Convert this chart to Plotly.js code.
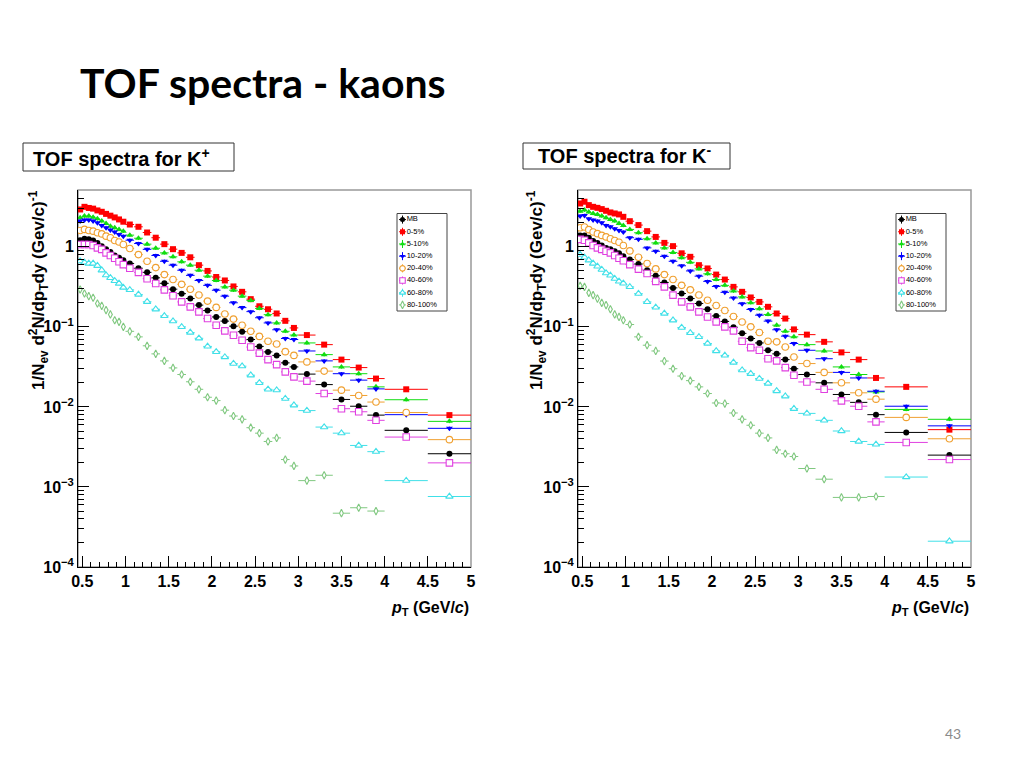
<!DOCTYPE html>
<html><head><meta charset="utf-8">
<script src="https://cdn.plot.ly/plotly-3.0.1.min.js"></script>
<style>html,body{margin:0;padding:0;background:#fff}#chart{width:1024px;height:768px}</style>
</head><body><div id="chart"></div>
<script>
// pT bin centres and half widths (GeV/c)
const pT = [0.475,0.525,0.575,0.625,0.675,0.725,0.775,0.825,0.875,0.925,0.975,
  1.05,1.15,1.25,1.35,1.45,1.55,1.65,1.75,1.85,1.95,2.05,2.15,2.25,2.35,2.45,2.55,2.65,2.75,2.85,2.95,
  3.1,3.3,3.5,3.7,3.9,4.25,4.75];
const pTHalfWidth = [0.025,0.025,0.025,0.025,0.025,0.025,0.025,0.025,0.025,0.025,0.025,
  0.05,0.05,0.05,0.05,0.05,0.05,0.05,0.05,0.05,0.05,0.05,0.05,0.05,0.05,0.05,0.05,0.05,0.05,0.05,0.05,
  0.1,0.1,0.1,0.1,0.1,0.25,0.25];

const seriesNames = ['MB','0-5%','5-10%','10-20%','20-40%','40-60%','60-80%','80-100%'];
const seriesColors = ['#000000','#ff0000','#11dd11','#0000ff','#f0a030','#e040e0','#40e0e8','#80c880'];
const seriesSymbols = ['circle','square','triangle-up','triangle-down','circle','square','triangle-up','diamond-tall'];
const seriesOpen = [false,false,false,false,true,true,true,true];

// K+ spectra
const kPlusMB    = [1.21,1.26,1.24,1.20,1.12,1.02,0.93,0.86,0.78,0.73,0.68,0.62,0.54,0.48,0.41,0.35,0.296,0.26,0.226,0.187,0.16,0.133,0.118,0.102,0.087,0.0695,0.057,0.0487,0.044,0.0355,0.0316,0.0257,0.019,0.0124,0.0102,0.0079,0.0051,0.0026];
const kPlus0_5   = [2.93,3.16,3.06,3.00,2.85,2.74,2.58,2.45,2.33,2.20,2.06,1.90,1.78,1.51,1.30,1.08,0.935,0.84,0.74,0.59,0.50,0.42,0.38,0.32,0.274,0.222,0.181,0.166,0.147,0.119,0.097,0.079,0.060,0.039,0.031,0.0226,0.0166,0.0079];
const kPlus5_10  = [2.31,2.42,2.42,2.35,2.24,2.10,1.96,1.81,1.73,1.65,1.57,1.40,1.28,1.08,0.96,0.84,0.75,0.65,0.59,0.51,0.43,0.38,0.316,0.287,0.242,0.214,0.17,0.142,0.112,0.088,0.079,0.063,0.045,0.0316,0.026,0.0178,0.0123,0.0066];
const kPlus10_20 = [2.10,2.16,2.16,2.10,2.00,1.85,1.73,1.62,1.53,1.43,1.36,1.21,1.10,0.93,0.78,0.66,0.59,0.51,0.44,0.38,0.33,0.287,0.242,0.20,0.174,0.155,0.13,0.112,0.092,0.0716,0.0695,0.050,0.0376,0.026,0.0216,0.0168,0.0080,0.0054];
const kPlus20_40 = [1.60,1.65,1.60,1.57,1.50,1.45,1.36,1.30,1.20,1.15,1.07,0.955,0.80,0.66,0.55,0.45,0.39,0.34,0.295,0.25,0.21,0.175,0.145,0.125,0.105,0.088,0.076,0.066,0.061,0.049,0.044,0.0365,0.028,0.0162,0.0139,0.0115,0.0085,0.0039];
const kPlus40_60 = [1.07,1.07,1.07,1.04,0.97,0.93,0.84,0.78,0.72,0.65,0.60,0.54,0.48,0.40,0.348,0.29,0.245,0.205,0.178,0.154,0.127,0.105,0.089,0.0787,0.068,0.056,0.047,0.039,0.0338,0.0274,0.0237,0.021,0.0147,0.0095,0.0087,0.0068,0.0042,0.0020];
const kPlus60_80 = [0.662,0.637,0.62,0.62,0.58,0.51,0.443,0.41,0.376,0.348,0.31,0.29,0.254,0.206,0.166,0.137,0.118,0.10,0.085,0.072,0.057,0.0488,0.042,0.0348,0.0323,0.0249,0.020,0.0166,0.0162,0.0127,0.0105,0.0090,0.0056,0.0047,0.0033,0.00276,0.0012,0.00076];
const kPlus80_100= [0.293,0.261,0.242,0.231,0.196,0.183,0.162,0.143,0.121,0.1155,0.100,0.088,0.075,0.058,0.046,0.0376,0.0307,0.0254,0.0206,0.0166,0.0132,0.012,0.0091,0.0077,0.0070,0.0055,0.0047,0.0037,0.0041,0.0022,0.00183,0.0012,0.0014,0.00047,0.00055,0.0005,null,null];

// K- spectra
const kMinusMB    = [1.39,1.39,1.30,1.18,1.12,1.04,0.97,0.93,0.88,0.83,0.76,0.695,0.61,0.51,0.435,0.359,0.307,0.261,0.226,0.196,0.166,0.137,0.117,0.099,0.083,0.0716,0.063,0.051,0.046,0.039,0.030,0.0254,0.020,0.0143,0.0114,0.0080,0.0048,0.0025];
const kMinus0_5   = [3.48,3.66,3.32,3.16,3.07,2.96,2.82,2.69,2.61,2.54,2.37,2.09,1.87,1.57,1.33,1.12,1.02,0.83,0.75,0.59,0.537,0.45,0.39,0.316,0.274,0.233,0.205,0.178,0.147,0.127,0.093,0.080,0.065,0.048,0.039,0.023,0.0178,0.0052];
const kMinus5_10  = [2.79,2.88,2.72,2.61,2.54,2.42,2.31,2.20,2.10,1.96,1.85,1.65,1.50,1.26,1.12,0.97,0.85,0.73,0.64,0.53,0.46,0.39,0.33,0.28,0.237,0.20,0.168,0.143,0.105,0.088,0.075,0.060,0.050,0.0316,0.0254,0.0154,0.0093,0.0070];
const kMinus10_20 = [2.42,2.47,2.24,2.16,2.10,2.00,1.85,1.78,1.68,1.60,1.53,1.30,1.24,0.97,0.88,0.76,0.66,0.58,0.50,0.43,0.37,0.32,0.27,0.23,0.195,0.165,0.14,0.118,0.092,0.0766,0.062,0.051,0.040,0.027,0.023,0.0157,0.0102,0.0058];
const kMinus20_40 = [1.73,1.77,1.64,1.53,1.46,1.39,1.33,1.26,1.20,1.14,1.04,0.89,0.74,0.62,0.53,0.45,0.39,0.33,0.29,0.25,0.215,0.185,0.16,0.135,0.115,0.10,0.085,0.066,0.065,0.056,0.042,0.0348,0.027,0.020,0.015,0.0125,0.0074,0.0040];
const kMinus40_60 = [1.24,1.21,1.12,1.04,0.97,0.93,0.88,0.84,0.78,0.72,0.67,0.60,0.526,0.464,0.37,0.316,0.249,0.205,0.178,0.154,0.133,0.1155,0.10,0.089,0.066,0.055,0.051,0.040,0.0376,0.031,0.0249,0.0205,0.0166,0.0119,0.0102,0.0065,0.0036,0.0022];
const kMinus60_80 = [0.80,0.74,0.68,0.62,0.57,0.52,0.47,0.44,0.40,0.37,0.35,0.316,0.26,0.205,0.175,0.147,0.121,0.098,0.084,0.075,0.062,0.050,0.044,0.0359,0.0288,0.026,0.0226,0.0196,0.0158,0.0136,0.0095,0.0083,0.0068,0.0050,0.0037,0.0034,0.00133,0.00021];
const kMinus80_100= [0.326,0.316,0.266,0.249,0.226,0.20,0.187,0.166,0.143,0.133,0.121,0.107,0.075,0.059,0.050,0.0374,0.030,0.0243,0.0213,0.0178,0.0147,0.0112,0.011,0.0084,0.0070,0.0059,0.0047,0.0041,0.0029,0.0026,0.0024,0.0017,0.00125,0.00074,0.00074,0.00076,null,null];

const yTickVals = [1e-4,1e-3,1e-2,1e-1,1];
const yTickText = ['10<sup>\u22124</sup>','10<sup>\u22123</sup>','10<sup>\u22122</sup>','10<sup>\u22121</sup>','1'];

const kPlusSeries  = [kPlusMB,kPlus0_5,kPlus5_10,kPlus10_20,kPlus20_40,kPlus40_60,kPlus60_80,kPlus80_100];
const kMinusSeries = [kMinusMB,kMinus0_5,kMinus5_10,kMinus10_20,kMinus20_40,kMinus40_60,kMinus60_80,kMinus80_100];

const FONT = 'Liberation Sans, Arial, Helvetica, sans-serif';
const traces = [];
function markerStyle(i, size) {
  const col = seriesColors[i];
  if (seriesOpen[i]) {
    return {symbol: seriesSymbols[i], color: '#ffffff', size: size + 0.5, line: {color: col, width: 1.1}};
  }
  return {symbol: seriesSymbols[i], color: col, size: size, line: {color: col, width: 0}};
}
function addSpectra(series, xa, ya) {
  series.forEach((vals, i) => {
    const col = seriesColors[i];
    traces.push({
      type: 'scatter', mode: 'markers', x: pT, y: vals, xaxis: xa, yaxis: ya,
      name: seriesNames[i], cliponaxis: true,
      marker: markerStyle(i, i === 7 ? 5 : 6),
      error_x: {type: 'data', array: pTHalfWidth, visible: true, width: 0, thickness: 1, color: col},
      error_y: {type: 'percent', value: 5, visible: true, width: 0, thickness: 1, color: col}
    });
  });
}
addSpectra(kPlusSeries, 'x', 'y');
addSpectra(kMinusSeries, 'x2', 'y2');

// legend entries (drawn as small scatter traces in their own hidden axes)
function addLegend(xa, ya) {
  seriesNames.forEach((nm, i) => {
    const col = seriesColors[i];
    traces.push({
      type: 'scatter', mode: 'markers+text', x: [5.5], y: [i + 0.5], xaxis: xa, yaxis: ya,
      text: [nm], textposition: 'middle right', cliponaxis: false,
      textfont: {family: FONT, size: 7.5, color: '#000'},
      marker: markerStyle(i, 5),
      error_x: {type: 'constant', value: 3.5, width: 0, thickness: 1, color: col},
      error_y: {type: 'constant', value: 0.33, width: 0, thickness: 1, color: col}
    });
  });
}
addLegend('x3', 'y3');
addLegend('x4', 'y4');

const W = 1024, H = 768;
const yDom = [(H - 567) / H, (H - 190) / H];
const xAxisBase = {
  range: [0.45, 5.0], tickmode: 'linear', tick0: 0.5, dtick: 0.5,
  ticks: 'inside', ticklen: 11, tickwidth: 1, tickcolor: '#000',
  showline: true, linecolor: '#000', linewidth: 1, showgrid: false, zeroline: false,
  tickfont: {family: FONT, size: 16, color: '#000', weight: 'bold'},
  minor: {ticks: 'inside', ticklen: 5.5, tickwidth: 1, tickcolor: '#000', tick0: 0.5, dtick: 0.1, showgrid: false},
  fixedrange: true
};
const yAxisBase = {
  type: 'log', range: [-4, 0.71], domain: yDom,
  tickmode: 'array', tickvals: yTickVals, ticktext: yTickText,
  ticks: 'inside', ticklen: 11, tickwidth: 1, tickcolor: '#000',
  showline: true, linecolor: '#000', linewidth: 1, showgrid: false, zeroline: false,
  tickfont: {family: FONT, size: 16, color: '#000', weight: 'bold'},
  minor: {ticks: 'inside', ticklen: 6, tickwidth: 1, tickcolor: '#000', dtick: 'D1', showgrid: false},
  fixedrange: true
};
const legAxisX = {visible: false, range: [0, 50], fixedrange: true};
const legAxisY = {visible: false, range: [8, 0], fixedrange: true, domain: [(H - 311) / H, (H - 213.5) / H]};

const layout = {
  width: W, height: H, margin: {l: 0, r: 0, t: 0, b: 0},
  paper_bgcolor: '#fff', plot_bgcolor: 'rgba(0,0,0,0)', showlegend: false,
  xaxis: Object.assign({}, xAxisBase, {domain: [78 / W, 471 / W], anchor: 'y'}),
  yaxis: Object.assign({}, yAxisBase, {anchor: 'x'}),
  xaxis2: Object.assign({}, xAxisBase, {domain: [578 / W, 971 / W], anchor: 'y2'}),
  yaxis2: Object.assign({}, yAxisBase, {anchor: 'x2'}),
  xaxis3: Object.assign({}, legAxisX, {domain: [397 / W, 447 / W], anchor: 'y3'}),
  yaxis3: Object.assign({}, legAxisY, {anchor: 'x3'}),
  xaxis4: Object.assign({}, legAxisX, {domain: [896 / W, 946 / W], anchor: 'y4'}),
  yaxis4: Object.assign({}, legAxisY, {anchor: 'x4'}),
  shapes: [
    {type: 'rect', xref: 'x domain', yref: 'y domain', x0: 0, x1: 1, y0: 0, y1: 1, line: {color: '#999', width: 1.5}, layer: 'below'},
    {type: 'rect', xref: 'x2 domain', yref: 'y2 domain', x0: 0, x1: 1, y0: 0, y1: 1, line: {color: '#999', width: 1.5}, layer: 'below'},
    {type: 'rect', xref: 'x3 domain', yref: 'y3 domain', x0: 0, x1: 1, y0: 0, y1: 1, line: {color: '#444', width: 1}, fillcolor: '#fff', layer: 'below'},
    {type: 'rect', xref: 'x4 domain', yref: 'y4 domain', x0: 0, x1: 1, y0: 0, y1: 1, line: {color: '#444', width: 1}, fillcolor: '#fff', layer: 'below'},
    {type: 'rect', xref: 'paper', yref: 'paper', x0: 23 / W, x1: 234 / W, y0: (H - 171) / H, y1: (H - 143) / H, line: {color: '#333', width: 1}},
    {type: 'rect', xref: 'paper', yref: 'paper', x0: 523 / W, x1: 730 / W, y0: (H - 169) / H, y1: (H - 143) / H, line: {color: '#333', width: 1}}
  ],
  annotations: [
    {text: 'TOF spectra - kaons', xref: 'paper', yref: 'paper', x: 78 / W, y: (H - 82) / H, xanchor: 'left', yanchor: 'middle', showarrow: false,
     font: {family: 'Lato, Open Sans, sans-serif', size: 41, color: '#000', weight: 'bold'}},
    {text: 'TOF spectra for K<sup>+</sup>', xref: 'paper', yref: 'paper', x: 31 / W, y: (H - 157) / H, xanchor: 'left', yanchor: 'middle', showarrow: false,
     font: {family: FONT, size: 20, color: '#000', weight: 'bold'}},
    {text: 'TOF spectra for K<sup>-</sup>', xref: 'paper', yref: 'paper', x: 536 / W, y: (H - 155) / H, xanchor: 'left', yanchor: 'middle', showarrow: false,
     font: {family: FONT, size: 20, color: '#000', weight: 'bold'}},
    {text: '1/N<sub>ev</sub> d<sup>2</sup>N/dp<sub>T</sub>dy (Gev/c)<sup>-1</sup>', xref: 'paper', yref: 'paper', x: 38 / W, y: (H - 290) / H,
     xanchor: 'center', yanchor: 'middle', textangle: -90, showarrow: false, font: {family: FONT, size: 17, color: '#000', weight: 'bold'}},
    {text: '1/N<sub>ev</sub> d<sup>2</sup>N/dp<sub>T</sub>dy (Gev/c)<sup>-1</sup>', xref: 'paper', yref: 'paper', x: 536 / W, y: (H - 290) / H,
     xanchor: 'center', yanchor: 'middle', textangle: -90, showarrow: false, font: {family: FONT, size: 17, color: '#000', weight: 'bold'}},
    {text: '<i>p</i><sub>T</sub> (GeV/<i>c</i>)', xref: 'paper', yref: 'paper', x: 471 / W, y: (H - 608) / H, xanchor: 'right', yanchor: 'middle', showarrow: false,
     font: {family: FONT, size: 16, color: '#000', weight: 'bold'}},
    {text: '<i>p</i><sub>T</sub> (GeV/<i>c</i>)', xref: 'paper', yref: 'paper', x: 971 / W, y: (H - 608) / H, xanchor: 'right', yanchor: 'middle', showarrow: false,
     font: {family: FONT, size: 16, color: '#000', weight: 'bold'}},
    {text: '43', xref: 'paper', yref: 'paper', x: 953 / W, y: (H - 733) / H, xanchor: 'center', yanchor: 'middle', showarrow: false,
     font: {family: 'Lato, sans-serif', size: 14, color: '#8a8a8a'}}
  ]
};

Plotly.newPlot('chart', traces, layout, {displayModeBar: false, staticPlot: true});
</script>
</body></html>
